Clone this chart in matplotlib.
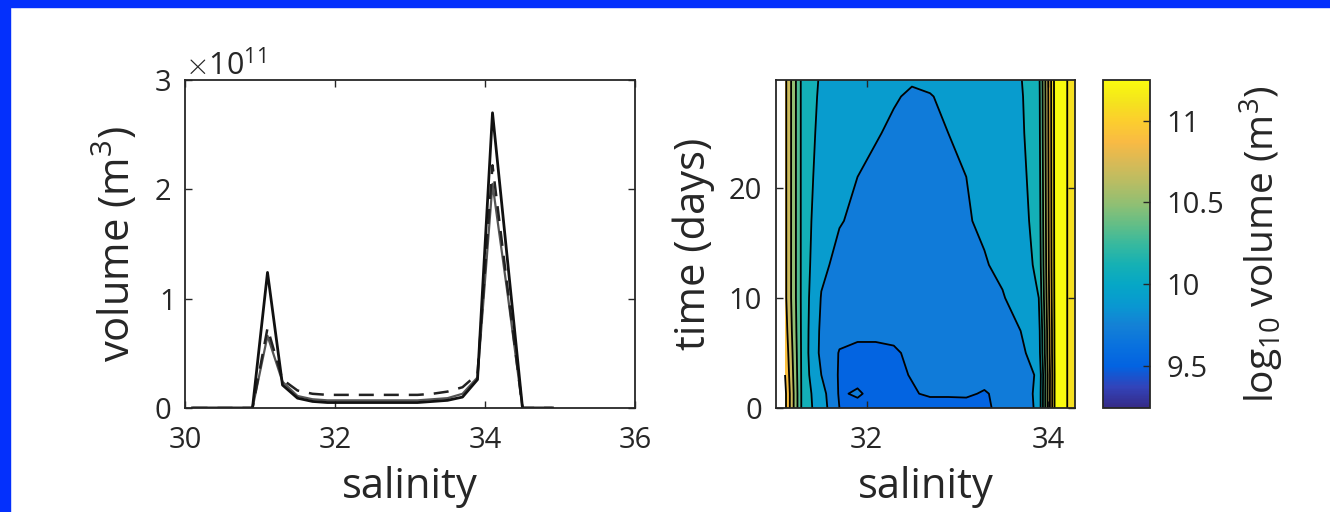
import numpy as np
import matplotlib
matplotlib.use('Agg')
import matplotlib.pyplot as plt
import matplotlib.patches as mpatches
from matplotlib.colors import LinearSegmentedColormap, Normalize
from matplotlib.ticker import ScalarFormatter

plt.rcParams['font.family'] = ['Open Sans', 'DejaVu Sans']
plt.rcParams['mathtext.fontset'] = 'custom'
plt.rcParams['mathtext.rm'] = 'Open Sans'
plt.rcParams['mathtext.it'] = 'Open Sans'

# salinity bins for the volume histograms
salinity = [30.1, 30.3, 30.5, 30.7, 30.9, 31.1, 31.3, 31.5, 31.7, 31.9, 32.1, 32.3, 32.5,
            32.7, 32.9, 33.1, 33.3, 33.5, 33.7, 33.9, 34.1, 34.3, 34.5, 34.7, 34.9]

# volume per bin (x 1e11 m^3)
vol_start = [0, 0, 0, 0, 0, 1.24, 0.21, 0.09, 0.06, 0.05, 0.05, 0.05, 0.05,
             0.05, 0.05, 0.05, 0.06, 0.07, 0.10, 0.26, 2.70, 1.35, 0, 0, 0]
vol_mid = [0, 0, 0, 0, 0, 0.66, 0.24, 0.11, 0.08, 0.07, 0.07, 0.07, 0.07,
           0.07, 0.07, 0.07, 0.08, 0.09, 0.13, 0.28, 2.05, 1.05, 0, 0, 0]
vol_end = [0, 0, 0, 0, 0, 0.73, 0.26, 0.16, 0.13, 0.12, 0.12, 0.12, 0.12,
           0.12, 0.12, 0.12, 0.13, 0.15, 0.19, 0.31, 2.22, 1.10, 0, 0, 0]

# log10 volume against salinity and time
sal_grid = [31.1, 31.3, 31.5, 31.7, 31.9, 32.1, 32.3, 32.5, 32.7, 32.9, 33.1, 33.3, 33.5, 33.7, 33.9, 34.1, 34.3]
time_days = [0, 1.3, 3, 5, 7, 10, 13, 17, 21, 25, 28.3, 29.8]
logvol = [
    [11.05, 10.10, 9.90, 9.60, 9.55, 9.52, 9.50, 9.50, 9.50, 9.50, 9.52, 9.56, 9.66, 9.70, 9.84, 11.40, 11.05],
    [11.05, 10.10, 9.88, 9.58, 9.62, 9.55, 9.55, 9.58, 9.63, 9.63, 9.63, 9.58, 9.66, 9.72, 9.84, 11.40, 11.05],
    [11.00, 10.10, 9.80, 9.58, 9.55, 9.54, 9.56, 9.61, 9.65, 9.66, 9.67, 9.68, 9.70, 9.74, 9.82, 11.40, 11.05],
    [10.95, 10.10, 9.75, 9.59, 9.57, 9.57, 9.58, 9.63, 9.67, 9.69, 9.70, 9.71, 9.72, 9.76, 9.90, 11.40, 11.05],
    [10.90, 10.10, 9.76, 9.65, 9.63, 9.63, 9.64, 9.66, 9.69, 9.71, 9.72, 9.73, 9.75, 9.80, 9.92, 11.40, 11.05],
    [10.85, 10.10, 9.79, 9.70, 9.68, 9.67, 9.67, 9.68, 9.70, 9.72, 9.74, 9.76, 9.79, 9.86, 10.00, 11.40, 11.05],
    [10.85, 10.10, 9.84, 9.75, 9.72, 9.70, 9.70, 9.71, 9.72, 9.74, 9.76, 9.79, 9.83, 9.90, 10.05, 11.40, 11.05],
    [10.85, 10.10, 9.88, 9.81, 9.77, 9.74, 9.73, 9.73, 9.74, 9.76, 9.79, 9.82, 9.86, 9.93, 10.08, 11.40, 11.05],
    [10.85, 10.10, 9.92, 9.85, 9.80, 9.77, 9.76, 9.75, 9.76, 9.78, 9.80, 9.84, 9.88, 9.95, 10.10, 11.40, 11.05],
    [10.85, 10.10, 9.95, 9.90, 9.85, 9.81, 9.78, 9.77, 9.78, 9.80, 9.83, 9.86, 9.90, 9.97, 10.12, 11.40, 11.05],
    [10.85, 10.10, 9.97, 9.93, 9.89, 9.85, 9.81, 9.785, 9.795, 9.82, 9.85, 9.88, 9.92, 9.98, 10.13, 11.40, 11.05],
    [10.85, 10.10, 9.98, 9.94, 9.90, 9.87, 9.84, 9.81, 9.82, 9.84, 9.87, 9.90, 9.93, 9.99, 10.14, 11.40, 11.05],
]
levels = [9.2, 9.4, 9.6, 9.8, 10.0, 10.2, 10.4, 10.6, 10.8, 11.0, 11.2, 11.6]
cbar_ticks = [9.5, 10, 10.5, 11]

# parula-like colormap
parula_pts = [
    [0.2081, 0.1663, 0.5292], [0.1959, 0.2645, 0.7279], [0.0117, 0.3875, 0.8820],
    [0.0329, 0.4430, 0.8720], [0.0779, 0.5040, 0.8384], [0.0343, 0.5966, 0.8199],
    [0.0228, 0.6535, 0.7768], [0.0843, 0.6928, 0.7062], [0.2178, 0.7250, 0.6193],
    [0.3952, 0.7459, 0.5244], [0.5709, 0.7485, 0.4494], [0.7184, 0.7411, 0.3905],
    [0.8507, 0.7299, 0.3360], [0.9739, 0.7314, 0.2666], [0.9880, 0.8066, 0.1794],
    [0.9589, 0.8949, 0.1132], [0.9763, 0.9831, 0.0538],
]
parula = LinearSegmentedColormap.from_list('parula', parula_pts)
norm = Normalize(vmin=9.24, vmax=11.25)

txt = '#262626'
tick_fs = 21
label_fs = 30

fig = plt.figure(figsize=(13.3, 5.12), dpi=100)

# blue frame on top and left
fig.patches.append(mpatches.Rectangle((0, 1 - 7 / 512), 1, 7 / 512, transform=fig.transFigure,
                                      color='#0430fc', zorder=10))
fig.patches.append(mpatches.Rectangle((0, 0), 10 / 1330, 1, transform=fig.transFigure,
                                      color='#0430fc', zorder=10))

def style_axes(ax):
    ax.tick_params(direction='in', top=True, right=True, labelsize=tick_fs, colors=txt,
                   length=5, width=1)
    ax.tick_params(axis='x', pad=13)
    ax.tick_params(axis='y', pad=10)
    for sp in ax.spines.values():
        sp.set_color('#262626')
        sp.set_linewidth(1.3)

# --- left: volume histograms ---
ax1 = fig.add_axes([185 / 1330, 104 / 512, 450 / 1330, 328 / 512])
ax1.plot(salinity, np.array(vol_mid) * 1e11, color='#555555', lw=1.6)
ax1.plot(salinity, np.array(vol_end) * 1e11, color='#222222', lw=1.8, ls=(0, (6, 4)))
ax1.plot(salinity, np.array(vol_start) * 1e11, color='#111111', lw=2.0)
ax1.set_xlim(30, 36)
ax1.set_ylim(0, 3e11)
ax1.set_xticks([30, 32, 34, 36])
ax1.set_yticks([0, 1e11, 2e11, 3e11])
fmt = ScalarFormatter(useMathText=True)
fmt.set_powerlimits((0, 0))
ax1.yaxis.set_major_formatter(fmt)
off = ax1.yaxis.get_offset_text()
off.set_fontsize(tick_fs + 1)
off.set_color(txt)
off.set_math_fontfamily('cm')
style_axes(ax1)
ax1.set_xlabel('salinity', fontsize=label_fs, color=txt, labelpad=8)
ax1.set_ylabel('volume (m$^3$)', fontsize=label_fs, color=txt, labelpad=10)

# --- right: contour of log10 volume in salinity/time ---
ax2 = fig.add_axes([776 / 1330, 104 / 512, 299 / 1330, 328 / 512])
S, T = np.meshgrid(sal_grid, time_days)
Z = np.array(logvol)
ax2.contourf(S, T, Z, levels=levels, cmap=parula, norm=norm)
ax2.contour(S, T, Z, levels=levels[1:-1], colors='k', linewidths=1.3)
ax2.set_xlim(31.0, 34.3)
ax2.set_ylim(0, 29.8)
ax2.set_xticks([32, 34])
ax2.set_yticks([0, 10, 20])
style_axes(ax2)
ax2.set_xlabel('salinity', fontsize=label_fs, color=txt, labelpad=8)
ax2.set_ylabel('time (days)', fontsize=label_fs, color=txt, labelpad=10)

# colorbar
cax = fig.add_axes([1103 / 1330, 104 / 512, 47 / 1330, 328 / 512])
sm = plt.cm.ScalarMappable(norm=norm, cmap=parula)
cb = fig.colorbar(sm, cax=cax)
cb.set_ticks(cbar_ticks)
cb.set_ticklabels(['9.5', '10', '10.5', '11'])
cb.ax.tick_params(direction='in', labelsize=tick_fs, colors=txt, length=5, width=1, pad=12)
cb.outline.set_edgecolor('#262626')
cb.outline.set_linewidth(1.3)
cb.set_label('log$_{10}$ volume (m$^3$)', fontsize=28, color=txt, labelpad=10)

fig.savefig('out.png', dpi=100, facecolor='white')
